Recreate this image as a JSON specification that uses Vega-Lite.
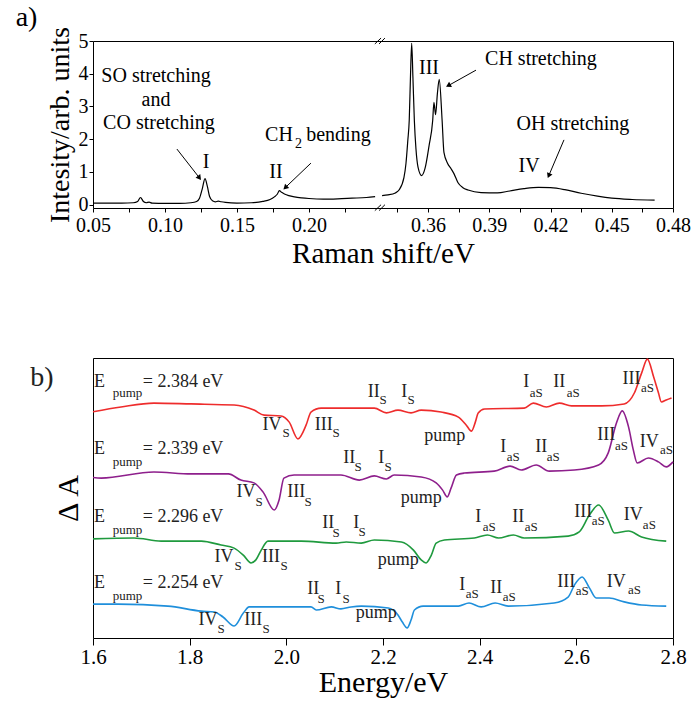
{
  "$schema": "https://vega.github.io/schema/vega-lite/v6.json",
  "padding": {"left": 15, "top": 3, "right": 0, "bottom": 0},
  "spacing": 150,
  "bounds": "flush",
  "config": {
    "font": "Liberation Serif",
    "view": {"stroke": "black", "strokeWidth": 1},
    "axis": {"grid": false, "domain": false, "labelFont": "Liberation Serif", "titleFont": "Liberation Serif", "labelColor": "black", "titleColor": "black", "tickColor": "black", "titleFontWeight": "normal", "labelFlush": false, "labelOverlap": false},
    "text": {"font": "Liberation Serif", "color": "black"}
  },
  "datasets": {
    "annA": [
      {"x":0.0938,"y":3.93,"t":"SO stretching","k":"m"},
      {"x":0.0938,"y":3.20,"t":"and","k":"m"},
      {"x":0.0958,"y":2.50,"t":"CO stretching","k":"m"},
      {"x":0.1285,"y":1.30,"t":"I","k":"m"},
      {"x":0.1771,"y":1.00,"t":"II","k":"m"},
      {"x":0.1792,"y":2.13,"t":"CH","k":"m"},
      {"x":0.1927,"y":1.86,"t":"2","k":"s"},
      {"x":0.2205,"y":2.13,"t":"bending","k":"m"},
      {"x":0.3605,"y":4.17,"t":"III","k":"m"},
      {"x":0.4153,"y":4.45,"t":"CH stretching","k":"m"},
      {"x":0.4310,"y":2.46,"t":"OH stretching","k":"m"},
      {"x":0.4095,"y":1.18,"t":"IV","k":"m"},
      {"x":0.0038,"y":5.70,"t":"a)","k":"h"}
    ],
    "annB": [
      {"x":1.6135,"y":9.143,"t":"E","k":"m"},{"x":1.6714,"y":8.75,"t":"pump","k":"s"},{"x":1.7863,"y":9.143,"t":"= 2.384 eV","k":"m"},
      {"x":1.9706,"y":7.607,"t":"IV","k":"m"},{"x":1.9996,"y":7.321,"t":"S","k":"s"},
      {"x":2.0772,"y":7.607,"t":"III","k":"m"},{"x":2.1031,"y":7.321,"t":"S","k":"s"},
      {"x":2.1807,"y":8.786,"t":"II","k":"m"},{"x":2.2004,"y":8.5,"t":"S","k":"s"},
      {"x":2.2439,"y":8.786,"t":"I","k":"m"},{"x":2.2584,"y":8.5,"t":"S","k":"s"},
      {"x":2.3277,"y":7.214,"t":"pump","k":"m"},
      {"x":2.4965,"y":9.143,"t":"I","k":"m"},{"x":2.5172,"y":8.75,"t":"aS","k":"s"},
      {"x":2.5648,"y":9.143,"t":"II","k":"m"},{"x":2.5938,"y":8.75,"t":"aS","k":"s"},
      {"x":2.7139,"y":9.25,"t":"III","k":"m"},{"x":2.7470,"y":8.929,"t":"aS","k":"s"},
      {"x":1.6135,"y":6.75,"t":"E","k":"m"},{"x":1.6714,"y":6.286,"t":"pump","k":"s"},{"x":1.7863,"y":6.75,"t":"= 2.339 eV","k":"m"},
      {"x":1.9168,"y":5.214,"t":"IV","k":"m"},{"x":1.9437,"y":4.857,"t":"S","k":"s"},
      {"x":2.0203,"y":5.214,"t":"III","k":"m"},{"x":2.0451,"y":4.857,"t":"S","k":"s"},
      {"x":2.1300,"y":6.429,"t":"II","k":"m"},{"x":2.1487,"y":6.107,"t":"S","k":"s"},
      {"x":2.1963,"y":6.429,"t":"I","k":"m"},{"x":2.2108,"y":6.107,"t":"S","k":"s"},
      {"x":2.2791,"y":5.0,"t":"pump","k":"m"},
      {"x":2.4489,"y":6.821,"t":"I","k":"m"},{"x":2.4696,"y":6.464,"t":"aS","k":"s"},
      {"x":2.5275,"y":6.821,"t":"II","k":"m"},{"x":2.5524,"y":6.464,"t":"aS","k":"s"},
      {"x":2.6621,"y":7.25,"t":"III","k":"m"},{"x":2.6932,"y":6.857,"t":"aS","k":"s"},
      {"x":2.7511,"y":7.0,"t":"IV","k":"m"},{"x":2.7863,"y":6.714,"t":"aS","k":"s"},
      {"x":1.6135,"y":4.321,"t":"E","k":"m"},{"x":1.6714,"y":3.857,"t":"pump","k":"s"},{"x":1.7863,"y":4.321,"t":"= 2.296 eV","k":"m"},
      {"x":1.8712,"y":2.893,"t":"IV","k":"m"},{"x":1.9002,"y":2.571,"t":"S","k":"s"},
      {"x":1.9685,"y":2.893,"t":"III","k":"m"},{"x":1.9954,"y":2.571,"t":"S","k":"s"},
      {"x":2.0865,"y":4.107,"t":"II","k":"m"},{"x":2.1031,"y":3.75,"t":"S","k":"s"},
      {"x":2.1445,"y":4.107,"t":"I","k":"m"},{"x":2.1569,"y":3.786,"t":"S","k":"s"},
      {"x":2.2315,"y":2.786,"t":"pump","k":"m"},
      {"x":2.3971,"y":4.321,"t":"I","k":"m"},{"x":2.4199,"y":3.964,"t":"aS","k":"s"},
      {"x":2.4799,"y":4.321,"t":"II","k":"m"},{"x":2.5068,"y":3.964,"t":"aS","k":"s"},
      {"x":2.6145,"y":4.5,"t":"III","k":"m"},{"x":2.6455,"y":4.179,"t":"aS","k":"s"},
      {"x":2.7180,"y":4.393,"t":"IV","k":"m"},{"x":2.7511,"y":4.036,"t":"aS","k":"s"},
      {"x":1.6135,"y":1.964,"t":"E","k":"m"},{"x":1.6714,"y":1.5,"t":"pump","k":"s"},{"x":1.7863,"y":1.964,"t":"= 2.254 eV","k":"m"},
      {"x":1.8381,"y":0.643,"t":"IV","k":"m"},{"x":1.8650,"y":0.321,"t":"S","k":"s"},
      {"x":1.9313,"y":0.643,"t":"III","k":"m"},{"x":1.9582,"y":0.321,"t":"S","k":"s"},
      {"x":2.0555,"y":1.75,"t":"II","k":"m"},{"x":2.0720,"y":1.393,"t":"S","k":"s"},
      {"x":2.1072,"y":1.75,"t":"I","k":"m"},{"x":2.1238,"y":1.393,"t":"S","k":"s"},
      {"x":2.1859,"y":0.893,"t":"pump","k":"m"},
      {"x":2.3640,"y":1.893,"t":"I","k":"m"},{"x":2.3847,"y":1.571,"t":"aS","k":"s"},
      {"x":2.4344,"y":1.786,"t":"II","k":"m"},{"x":2.4613,"y":1.464,"t":"aS","k":"s"},
      {"x":2.5793,"y":2.0,"t":"III","k":"m"},{"x":2.6124,"y":1.679,"t":"aS","k":"s"},
      {"x":2.6828,"y":2.0,"t":"IV","k":"m"},{"x":2.7201,"y":1.714,"t":"aS","k":"s"},
      {"x":1.4944,"y":9.286,"t":"b)","k":"h"}
    ]
  },
  "vconcat": [
    {
      "width": 580,
      "height": 167,
      "layer": [
        {
          "data": {"values": [
            {"seg":"L","x":0.050,"y":0.05},{"seg":"L","x":0.060,"y":0.05},{"seg":"L","x":0.070,"y":0.05},{"seg":"L","x":0.078,"y":0.06},{"seg":"L","x":0.081,"y":0.10},{"seg":"L","x":0.083,"y":0.22},{"seg":"L","x":0.085,"y":0.10},{"seg":"L","x":0.087,"y":0.06},{"seg":"L","x":0.089,"y":0.08},{"seg":"L","x":0.091,"y":0.05},{"seg":"L","x":0.100,"y":0.04},{"seg":"L","x":0.110,"y":0.04},{"seg":"L","x":0.118,"y":0.06},{"seg":"L","x":0.122,"y":0.10},{"seg":"L","x":0.124,"y":0.20},{"seg":"L","x":0.126,"y":0.50},{"seg":"L","x":0.1278,"y":0.80},{"seg":"L","x":0.1295,"y":0.55},{"seg":"L","x":0.131,"y":0.25},{"seg":"L","x":0.133,"y":0.12},{"seg":"L","x":0.135,"y":0.09},{"seg":"L","x":0.137,"y":0.11},{"seg":"L","x":0.139,"y":0.09},{"seg":"L","x":0.142,"y":0.07},{"seg":"L","x":0.150,"y":0.05},{"seg":"L","x":0.160,"y":0.06},{"seg":"L","x":0.168,"y":0.10},{"seg":"L","x":0.173,"y":0.16},{"seg":"L","x":0.176,"y":0.24},{"seg":"L","x":0.178,"y":0.32},{"seg":"L","x":0.1795,"y":0.43},{"seg":"L","x":0.181,"y":0.38},{"seg":"L","x":0.183,"y":0.33},{"seg":"L","x":0.186,"y":0.28},{"seg":"L","x":0.190,"y":0.24},{"seg":"L","x":0.195,"y":0.21},{"seg":"L","x":0.200,"y":0.19},{"seg":"L","x":0.210,"y":0.17},{"seg":"L","x":0.220,"y":0.18},{"seg":"L","x":0.230,"y":0.20},{"seg":"L","x":0.240,"y":0.22},{"seg":"L","x":0.246,"y":0.25},
            {"seg":"R","x":0.3375,"y":0.28},{"seg":"R","x":0.3404,"y":0.30},{"seg":"R","x":0.3440,"y":0.36},{"seg":"R","x":0.3458,"y":0.45},{"seg":"R","x":0.3482,"y":0.83},{"seg":"R","x":0.3492,"y":1.26},{"seg":"R","x":0.3501,"y":1.96},{"seg":"R","x":0.3508,"y":2.58},{"seg":"R","x":0.3514,"y":3.9},{"seg":"R","x":0.3520,"y":4.93},{"seg":"R","x":0.3526,"y":3.9},{"seg":"R","x":0.3533,"y":2.58},{"seg":"R","x":0.3541,"y":1.7},{"seg":"R","x":0.3551,"y":1.15},{"seg":"R","x":0.3569,"y":0.89},{"seg":"R","x":0.3585,"y":1.1},{"seg":"R","x":0.3605,"y":1.8},{"seg":"R","x":0.3623,"y":2.58},{"seg":"R","x":0.3629,"y":3.13},{"seg":"R","x":0.3637,"y":2.75},{"seg":"R","x":0.3646,"y":3.4},{"seg":"R","x":0.3655,"y":3.83},{"seg":"R","x":0.3669,"y":2.58},{"seg":"R","x":0.3678,"y":1.6},{"seg":"R","x":0.3696,"y":1.26},{"seg":"R","x":0.3713,"y":1.1},{"seg":"R","x":0.3727,"y":0.95},{"seg":"R","x":0.3747,"y":0.67},{"seg":"R","x":0.3771,"y":0.52},{"seg":"R","x":0.3796,"y":0.45},{"seg":"R","x":0.3860,"y":0.37},{"seg":"R","x":0.3940,"y":0.36},{"seg":"R","x":0.4000,"y":0.42},{"seg":"R","x":0.4070,"y":0.49},{"seg":"R","x":0.4140,"y":0.53},{"seg":"R","x":0.4200,"y":0.52},{"seg":"R","x":0.4270,"y":0.46},{"seg":"R","x":0.4350,"y":0.35},{"seg":"R","x":0.4430,"y":0.26},{"seg":"R","x":0.4500,"y":0.20},{"seg":"R","x":0.4600,"y":0.16},{"seg":"R","x":0.4710,"y":0.14}
          ]},
          "mark": {"type": "line", "color": "black", "strokeWidth": 1.2, "interpolate": "monotone"},
          "encoding": {
            "x": {"field": "x", "type": "quantitative",
              "scale": {"type": "linear", "domain": [0.05, 0.248, 0.3355, 0.48], "range": [0, 285, 285, 580], "nice": false, "zero": false},
              "axis": {"title": "Raman shift/eV", "titleFontSize": 29, "titlePadding": 4, "labelFontSize": 20, "tickSize": 4, "labelPadding": 3, "tickCount": 100,
                "values": [0.05,0.075,0.1,0.125,0.15,0.175,0.2,0.225,0.345,0.36,0.375,0.39,0.405,0.42,0.435,0.45,0.465,0.48],
                "labelExpr": "(datum.value < 0.3 ? round(datum.value*1000) % 50 == 0 : round(datum.value*1000) % 30 == 0) ? format(datum.value, '.2f') : ''"}},
            "y": {"field": "y", "type": "quantitative",
              "scale": {"domain": [-0.1, 5], "nice": false, "zero": false},
              "axis": {"title": "Intesity/arb. units", "titleFontSize": 28, "titlePadding": 4, "labelFontSize": 20, "tickSize": 4, "labelPadding": 1, "values": [0,1,2,3,4,5], "tickCount": 100, "format": "d"}},
            "detail": {"field": "seg"}
          }
        },
        {
          "data": {"name": "annA"},
          "transform": [{"filter": "datum.k == 'm'"}],
          "mark": {"type": "text", "baseline": "middle", "align": "center", "fontSize": 20},
          "encoding": {
            "x": {"field": "x", "type": "quantitative"},
            "y": {"field": "y", "type": "quantitative"},
            "text": {"field": "t"}
          }
        },
        {
          "data": {"name": "annA"},
          "transform": [{"filter": "datum.k == 's'"}],
          "mark": {"type": "text", "baseline": "middle", "align": "center", "fontSize": 14},
          "encoding": {
            "x": {"field": "x", "type": "quantitative"},
            "y": {"field": "y", "type": "quantitative"},
            "text": {"field": "t"}
          }
        },
        {
          "data": {"name": "annA"},
          "transform": [{"filter": "datum.k == 'h'"}],
          "mark": {"type": "text", "baseline": "middle", "align": "center", "fontSize": 28},
          "encoding": {
            "x": {"field": "x", "type": "quantitative"},
            "y": {"field": "y", "type": "quantitative"},
            "text": {"field": "t"}
          }
        },
        {
          "data": {"values": [
            {"x":0.1083,"y":1.70,"x2":0.1236,"y2":0.84},
            {"x":0.2014,"y":1.27,"x2":0.1840,"y2":0.54},
            {"x":0.3835,"y":4.11,"x2":0.3703,"y2":3.65},
            {"x":0.4266,"y":1.98,"x2":0.4193,"y2":0.91},
            {"x":0.2458,"y":-0.18,"x2":0.3370,"y2":0.0},
            {"x":0.3360,"y":-0.18,"x2":0.3389,"y2":0.0},
            {"x":0.2458,"y":4.91,"x2":0.3370,"y2":5.09},
            {"x":0.3360,"y":4.91,"x2":0.3389,"y2":5.09}
          ]},
          "mark": {"type": "rule", "color": "black", "strokeWidth": 1},
          "encoding": {
            "x": {"field": "x", "type": "quantitative"},
            "y": {"field": "y", "type": "quantitative"},
            "x2": {"field": "x2"},
            "y2": {"field": "y2"}
          }
        },
        {
          "data": {"values": [
            {"x":0.1236,"y":0.84,"a":142},
            {"x":0.1840,"y":0.54,"a":226},
            {"x":0.3703,"y":3.65,"a":241},
            {"x":0.4193,"y":0.91,"a":203}
          ]},
          "mark": {"type": "point", "shape": "triangle", "filled": true, "color": "black", "size": 35, "opacity": 1},
          "encoding": {
            "x": {"field": "x", "type": "quantitative"},
            "y": {"field": "y", "type": "quantitative"},
            "angle": {"field": "a", "type": "quantitative", "scale": null}
          }
        }
      ]
    },
    {
      "width": 580,
      "height": 280,
      "layer": [
        {
          "data": {"values": [
            {"s":"r","x":1.600,"y":8.08},{"s":"r","x":1.658,"y":8.25},{"s":"r","x":1.726,"y":8.39},{"s":"r","x":1.803,"y":8.36},{"s":"r","x":1.892,"y":8.32},{"s":"r","x":1.933,"y":8.14},{"s":"r","x":1.954,"y":7.96},{"s":"r","x":1.989,"y":7.93},{"s":"r","x":2.006,"y":7.71},{"s":"r","x":2.024,"y":7.11},{"s":"r","x":2.041,"y":7.61},{"s":"r","x":2.051,"y":8.07},{"s":"r","x":2.072,"y":8.21},{"s":"r","x":2.113,"y":8.21},{"s":"r","x":2.182,"y":8.21},{"s":"r","x":2.207,"y":8.04},{"s":"r","x":2.231,"y":8.14},{"s":"r","x":2.258,"y":8.04},{"s":"r","x":2.279,"y":8.14},{"s":"r","x":2.320,"y":8.07},{"s":"r","x":2.356,"y":7.89},{"s":"r","x":2.372,"y":7.61},{"s":"r","x":2.383,"y":7.39},{"s":"r","x":2.391,"y":7.71},{"s":"r","x":2.397,"y":8.04},{"s":"r","x":2.410,"y":8.18},{"s":"r","x":2.492,"y":8.21},{"s":"r","x":2.511,"y":8.39},{"s":"r","x":2.538,"y":8.25},{"s":"r","x":2.565,"y":8.39},{"s":"r","x":2.590,"y":8.29},{"s":"r","x":2.652,"y":8.29},{"s":"r","x":2.699,"y":8.36},{"s":"r","x":2.720,"y":8.75},{"s":"r","x":2.735,"y":9.46},{"s":"r","x":2.747,"y":9.96},{"s":"r","x":2.760,"y":9.32},{"s":"r","x":2.770,"y":8.75},{"s":"r","x":2.776,"y":8.43},{"s":"r","x":2.786,"y":8.50},{"s":"r","x":2.797,"y":8.57},
            {"s":"p","x":1.600,"y":5.73},{"s":"p","x":1.617,"y":5.71},{"s":"p","x":1.726,"y":5.93},{"s":"p","x":1.803,"y":5.86},{"s":"p","x":1.880,"y":5.86},{"s":"p","x":1.906,"y":5.64},{"s":"p","x":1.933,"y":5.54},{"s":"p","x":1.952,"y":5.21},{"s":"p","x":1.975,"y":4.57},{"s":"p","x":1.985,"y":4.93},{"s":"p","x":1.995,"y":5.71},{"s":"p","x":2.016,"y":5.82},{"s":"p","x":2.113,"y":5.82},{"s":"p","x":2.151,"y":5.64},{"s":"p","x":2.182,"y":5.79},{"s":"p","x":2.207,"y":5.68},{"s":"p","x":2.223,"y":5.82},{"s":"p","x":2.279,"y":5.75},{"s":"p","x":2.310,"y":5.54},{"s":"p","x":2.323,"y":5.29},{"s":"p","x":2.333,"y":5.04},{"s":"p","x":2.341,"y":5.36},{"s":"p","x":2.352,"y":5.82},{"s":"p","x":2.368,"y":5.89},{"s":"p","x":2.430,"y":5.96},{"s":"p","x":2.463,"y":6.14},{"s":"p","x":2.486,"y":6.00},{"s":"p","x":2.517,"y":6.18},{"s":"p","x":2.544,"y":5.96},{"s":"p","x":2.596,"y":6.00},{"s":"p","x":2.646,"y":6.18},{"s":"p","x":2.666,"y":6.61},{"s":"p","x":2.683,"y":7.68},{"s":"p","x":2.695,"y":8.11},{"s":"p","x":2.708,"y":7.54},{"s":"p","x":2.718,"y":6.71},{"s":"p","x":2.726,"y":6.25},{"s":"p","x":2.749,"y":6.43},{"s":"p","x":2.770,"y":6.29},{"s":"p","x":2.786,"y":6.11},{"s":"p","x":2.800,"y":6.29},
            {"s":"g","x":1.600,"y":3.54},{"s":"g","x":1.685,"y":3.57},{"s":"g","x":1.741,"y":3.46},{"s":"g","x":1.824,"y":3.46},{"s":"g","x":1.865,"y":3.32},{"s":"g","x":1.892,"y":3.21},{"s":"g","x":1.911,"y":2.96},{"s":"g","x":1.927,"y":2.68},{"s":"g","x":1.937,"y":2.79},{"s":"g","x":1.948,"y":3.14},{"s":"g","x":1.962,"y":3.46},{"s":"g","x":2.031,"y":3.46},{"s":"g","x":2.103,"y":3.39},{"s":"g","x":2.124,"y":3.43},{"s":"g","x":2.155,"y":3.39},{"s":"g","x":2.182,"y":3.50},{"s":"g","x":2.238,"y":3.43},{"s":"g","x":2.263,"y":3.14},{"s":"g","x":2.279,"y":2.79},{"s":"g","x":2.289,"y":2.68},{"s":"g","x":2.300,"y":2.96},{"s":"g","x":2.310,"y":3.39},{"s":"g","x":2.327,"y":3.50},{"s":"g","x":2.389,"y":3.57},{"s":"g","x":2.416,"y":3.68},{"s":"g","x":2.439,"y":3.57},{"s":"g","x":2.470,"y":3.68},{"s":"g","x":2.492,"y":3.57},{"s":"g","x":2.583,"y":3.64},{"s":"g","x":2.606,"y":3.79},{"s":"g","x":2.627,"y":4.39},{"s":"g","x":2.646,"y":4.75},{"s":"g","x":2.666,"y":4.21},{"s":"g","x":2.679,"y":3.75},{"s":"g","x":2.708,"y":3.82},{"s":"g","x":2.735,"y":3.61},{"s":"g","x":2.786,"y":3.46},
            {"s":"b","x":1.600,"y":1.21},{"s":"b","x":1.652,"y":1.21},{"s":"b","x":1.755,"y":1.14},{"s":"b","x":1.824,"y":0.96},{"s":"b","x":1.851,"y":0.93},{"s":"b","x":1.869,"y":0.75},{"s":"b","x":1.892,"y":0.43},{"s":"b","x":1.911,"y":0.89},{"s":"b","x":1.923,"y":1.11},{"s":"b","x":2.051,"y":1.11},{"s":"b","x":2.062,"y":1.00},{"s":"b","x":2.093,"y":1.11},{"s":"b","x":2.113,"y":1.04},{"s":"b","x":2.134,"y":1.11},{"s":"b","x":2.155,"y":1.14},{"s":"b","x":2.211,"y":1.07},{"s":"b","x":2.231,"y":0.82},{"s":"b","x":2.240,"y":0.57},{"s":"b","x":2.250,"y":0.36},{"s":"b","x":2.258,"y":0.64},{"s":"b","x":2.265,"y":1.00},{"s":"b","x":2.283,"y":1.14},{"s":"b","x":2.356,"y":1.14},{"s":"b","x":2.378,"y":1.25},{"s":"b","x":2.403,"y":1.11},{"s":"b","x":2.432,"y":1.25},{"s":"b","x":2.459,"y":1.14},{"s":"b","x":2.554,"y":1.25},{"s":"b","x":2.583,"y":1.46},{"s":"b","x":2.596,"y":1.89},{"s":"b","x":2.612,"y":2.18},{"s":"b","x":2.627,"y":1.79},{"s":"b","x":2.641,"y":1.43},{"s":"b","x":2.668,"y":1.43},{"s":"b","x":2.699,"y":1.29},{"s":"b","x":2.735,"y":1.18},{"s":"b","x":2.786,"y":1.14}
          ]},
          "mark": {"type": "line", "strokeWidth": 1.6, "interpolate": "monotone"},
          "encoding": {
            "x": {"field": "x", "type": "quantitative",
              "scale": {"domain": [1.6, 2.8], "nice": false, "zero": false},
              "axis": {"title": "Energy/eV", "titleFontSize": 30, "titlePadding": 0, "labelFontSize": 21, "tickSize": 7, "labelPadding": 1, "values": [1.6,1.8,2.0,2.2,2.4,2.6,2.8], "format": ".1f", "tickCount": 100}},
            "y": {"field": "y", "type": "quantitative",
              "scale": {"domain": [0, 10], "nice": false, "zero": false},
              "axis": {"title": "Δ A", "titleFontSize": 30, "titlePadding": 10, "labels": false, "ticks": false}},
            "color": {"field": "s", "type": "nominal", "scale": {"domain": ["r","p","g","b"], "range": ["#ee2c2c", "#8e1f8c", "#1f9a3e", "#1f8fdb"]}, "legend": null}
          }
        },
        {
          "data": {"name": "annB"},
          "transform": [{"filter": "datum.k == 'm'"}],
          "mark": {"type": "text", "baseline": "middle", "align": "center", "fontSize": 18, "color": "#222222"},
          "encoding": {
            "x": {"field": "x", "type": "quantitative"},
            "y": {"field": "y", "type": "quantitative"},
            "text": {"field": "t"}
          }
        },
        {
          "data": {"name": "annB"},
          "transform": [{"filter": "datum.k == 's'"}],
          "mark": {"type": "text", "baseline": "middle", "align": "center", "fontSize": 13, "color": "#222222"},
          "encoding": {
            "x": {"field": "x", "type": "quantitative"},
            "y": {"field": "y", "type": "quantitative"},
            "text": {"field": "t"}
          }
        },
        {
          "data": {"name": "annB"},
          "transform": [{"filter": "datum.k == 'h'"}],
          "mark": {"type": "text", "baseline": "middle", "align": "center", "fontSize": 28, "color": "#222222"},
          "encoding": {
            "x": {"field": "x", "type": "quantitative"},
            "y": {"field": "y", "type": "quantitative"},
            "text": {"field": "t"}
          }
        }
      ]
    }
  ]
}
